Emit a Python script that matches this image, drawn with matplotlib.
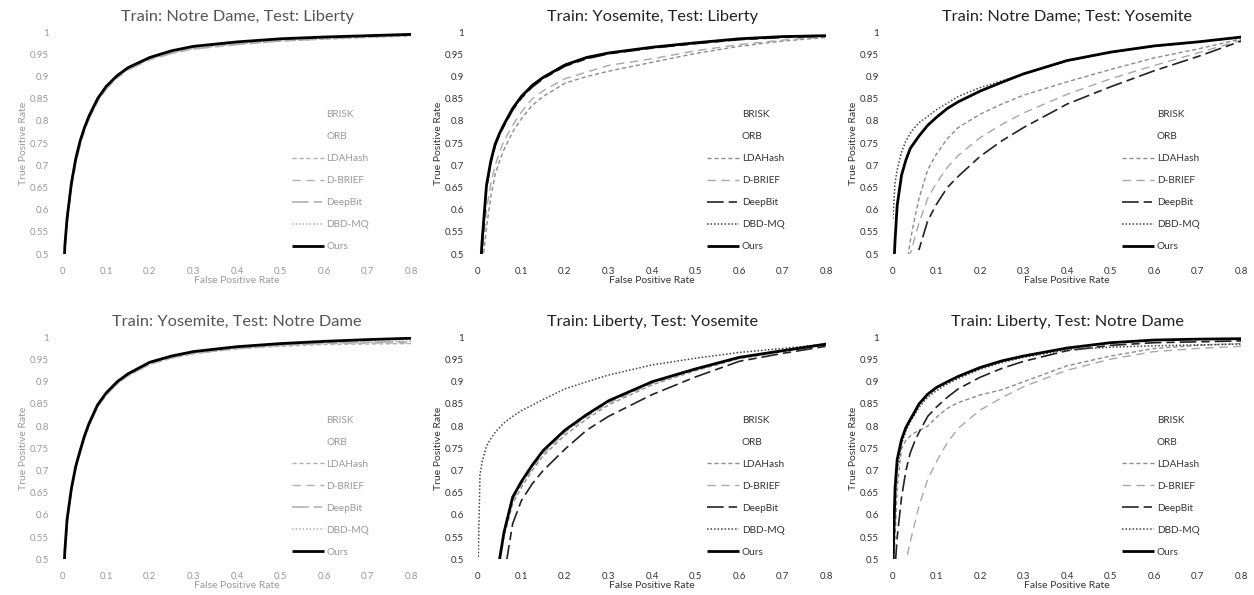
import matplotlib
matplotlib.use("Agg")
import matplotlib.pyplot as plt
from matplotlib.ticker import FormatStrFormatter, MultipleLocator
import numpy as np

plt.rcParams['font.family'] = ['Lato', 'DejaVu Sans']

# shared false positive rate grid (x) for every curve
fpr = [0, 0.005, 0.01, 0.02, 0.03, 0.04, 0.05, 0.06, 0.08, 0.1,
       0.125, 0.15, 0.2, 0.25, 0.3, 0.4, 0.5, 0.6, 0.7, 0.8]

methods = ['BRISK', 'ORB', 'LDAHash', 'D-BRIEF', 'DeepBit', 'DBD-MQ', 'Ours']

titles = ['Train: Notre Dame, Test: Liberty',
          'Train: Yosemite, Test: Liberty',
          'Train: Notre Dame; Test: Yosemite',
          'Train: Yosemite, Test: Notre Dame',
          'Train: Liberty, Test: Yosemite',
          'Train: Liberty, Test: Notre Dame']

# true positive rates (below 0.5 is clipped away)
# panel 1
p1_ldahash = [0.38, 0.50, 0.57, 0.655, 0.71, 0.75, 0.78, 0.806, 0.846, 0.875,
              0.90, 0.917, 0.94, 0.953, 0.963, 0.973, 0.98, 0.984, 0.988, 0.991]
p1_dbrief = [0.39, 0.51, 0.575, 0.66, 0.713, 0.752, 0.783, 0.808, 0.848, 0.876,
             0.90, 0.918, 0.941, 0.955, 0.965, 0.976, 0.983, 0.987, 0.99, 0.993]
p1_deepbit = [0.40, 0.51, 0.57, 0.65, 0.705, 0.745, 0.778, 0.803, 0.843, 0.872,
              0.897, 0.915, 0.938, 0.952, 0.962, 0.972, 0.98, 0.985, 0.989, 0.993]
p1_dbdmq = [0.40, 0.52, 0.585, 0.665, 0.72, 0.758, 0.787, 0.812, 0.85, 0.877,
            0.90, 0.918, 0.94, 0.955, 0.965, 0.975, 0.982, 0.986, 0.99, 0.993]
p1_ours = [0.40, 0.52, 0.58, 0.66, 0.715, 0.755, 0.785, 0.81, 0.85, 0.878,
           0.902, 0.92, 0.943, 0.958, 0.968, 0.978, 0.985, 0.989, 0.992, 0.995]

# panel 2
p2_ldahash = [0.30, 0.40, 0.47, 0.56, 0.63, 0.68, 0.71, 0.735, 0.775, 0.805,
              0.835, 0.855, 0.885, 0.90, 0.912, 0.932, 0.952, 0.968, 0.98, 0.988]
p2_dbrief = [0.30, 0.42, 0.50, 0.60, 0.66, 0.70, 0.73, 0.755, 0.79, 0.82,
             0.85, 0.868, 0.895, 0.91, 0.925, 0.94, 0.958, 0.972, 0.982, 0.99]
p2_deepbit = [0.34, 0.44, 0.52, 0.648, 0.705, 0.744, 0.768, 0.788, 0.824, 0.851,
              0.876, 0.895, 0.923, 0.94, 0.951, 0.964, 0.974, 0.983, 0.988, 0.991]
p2_dbdmq = [0.35, 0.45, 0.525, 0.652, 0.708, 0.746, 0.77, 0.79, 0.826, 0.853,
            0.878, 0.896, 0.924, 0.941, 0.952, 0.965, 0.975, 0.984, 0.989, 0.992]
p2_ours = [0.35, 0.45, 0.53, 0.655, 0.71, 0.748, 0.772, 0.792, 0.828, 0.855,
           0.88, 0.898, 0.926, 0.943, 0.953, 0.966, 0.976, 0.985, 0.99, 0.992]

# panel 3
p3_ldahash = [0.20, 0.25, 0.30, 0.38, 0.46, 0.53, 0.58, 0.625, 0.69, 0.725,
              0.76, 0.785, 0.815, 0.838, 0.858, 0.888, 0.916, 0.942, 0.962, 0.985]
p3_dbrief = [0.18, 0.22, 0.27, 0.34, 0.42, 0.50, 0.535, 0.57, 0.625, 0.66,
             0.695, 0.722, 0.762, 0.792, 0.818, 0.86, 0.895, 0.925, 0.953, 0.982]
p3_deepbit = [0.15, 0.20, 0.25, 0.32, 0.38, 0.43, 0.47, 0.51, 0.575, 0.612,
              0.65, 0.675, 0.72, 0.755, 0.785, 0.838, 0.877, 0.913, 0.945, 0.98]
p3_dbdmq = [0.58, 0.66, 0.69, 0.73, 0.755, 0.772, 0.785, 0.796, 0.81, 0.825,
            0.84, 0.855, 0.875, 0.89, 0.905, 0.935, 0.954, 0.968, 0.978, 0.988]
p3_ours = [0.42, 0.53, 0.61, 0.678, 0.712, 0.738, 0.752, 0.766, 0.79, 0.808,
           0.828, 0.843, 0.867, 0.887, 0.906, 0.936, 0.955, 0.969, 0.978, 0.989]

# panel 4
p4_ldahash = [0.41, 0.51, 0.58, 0.652, 0.703, 0.74, 0.772, 0.8, 0.842, 0.87,
              0.895, 0.913, 0.939, 0.953, 0.963, 0.974, 0.98, 0.984, 0.985, 0.986]
p4_dbrief = [0.41, 0.515, 0.585, 0.656, 0.706, 0.742, 0.775, 0.802, 0.845, 0.872,
             0.897, 0.915, 0.941, 0.955, 0.965, 0.976, 0.983, 0.986, 0.987, 0.988]
p4_deepbit = [0.41, 0.51, 0.58, 0.655, 0.705, 0.74, 0.773, 0.8, 0.844, 0.871,
              0.896, 0.914, 0.94, 0.954, 0.964, 0.975, 0.982, 0.987, 0.989, 0.99]
p4_dbdmq = [0.42, 0.515, 0.588, 0.658, 0.708, 0.743, 0.776, 0.803, 0.846, 0.873,
            0.898, 0.916, 0.942, 0.956, 0.966, 0.977, 0.984, 0.988, 0.99, 0.992]
p4_ours = [0.42, 0.52, 0.59, 0.66, 0.71, 0.745, 0.778, 0.805, 0.848, 0.875,
           0.90, 0.918, 0.944, 0.958, 0.968, 0.979, 0.986, 0.991, 0.995, 0.998]

# panel 5
p5_ldahash = [0.19, 0.21, 0.24, 0.29, 0.35, 0.42, 0.49, 0.55, 0.625, 0.662,
              0.70, 0.733, 0.78, 0.816, 0.848, 0.893, 0.925, 0.952, 0.968, 0.983]
p5_dbrief = [0.20, 0.22, 0.25, 0.30, 0.355, 0.425, 0.495, 0.555, 0.632, 0.668,
             0.705, 0.738, 0.786, 0.821, 0.852, 0.896, 0.927, 0.953, 0.969, 0.984]
p5_deepbit = [0.15, 0.17, 0.20, 0.25, 0.30, 0.35, 0.40, 0.46, 0.58, 0.632,
              0.67, 0.70, 0.748, 0.791, 0.822, 0.871, 0.911, 0.946, 0.964, 0.98]
p5_dbdmq = [0.45, 0.69, 0.72, 0.755, 0.772, 0.786, 0.797, 0.807, 0.822, 0.835,
            0.847, 0.86, 0.884, 0.90, 0.915, 0.938, 0.953, 0.966, 0.975, 0.985]
p5_ours = [0.20, 0.22, 0.25, 0.30, 0.36, 0.43, 0.50, 0.56, 0.64, 0.675,
           0.712, 0.745, 0.791, 0.826, 0.857, 0.90, 0.929, 0.955, 0.97, 0.985]

# panel 6
p6_ldahash = [0.45, 0.55, 0.66, 0.75, 0.768, 0.778, 0.785, 0.79, 0.80, 0.82,
              0.84, 0.853, 0.87, 0.882, 0.90, 0.936, 0.958, 0.975, 0.982, 0.986]
p6_dbrief = [0.30, 0.33, 0.36, 0.43, 0.495, 0.54, 0.58, 0.62, 0.68, 0.72,
             0.763, 0.795, 0.836, 0.864, 0.889, 0.926, 0.951, 0.968, 0.975, 0.98]
p6_deepbit = [0.40, 0.48, 0.55, 0.64, 0.70, 0.74, 0.765, 0.786, 0.822, 0.843,
              0.865, 0.884, 0.91, 0.93, 0.946, 0.97, 0.982, 0.988, 0.99, 0.992]
p6_dbdmq = [0.45, 0.62, 0.70, 0.76, 0.79, 0.81, 0.826, 0.842, 0.865, 0.88,
            0.895, 0.907, 0.928, 0.943, 0.955, 0.972, 0.978, 0.981, 0.983, 0.985]
p6_ours = [0.48, 0.66, 0.725, 0.77, 0.797, 0.815, 0.832, 0.85, 0.872, 0.887,
           0.90, 0.912, 0.932, 0.947, 0.958, 0.976, 0.988, 0.994, 0.996, 0.997]

panels = [
    [p1_ldahash, p1_dbrief, p1_deepbit, p1_dbdmq, p1_ours],
    [p2_ldahash, p2_dbrief, p2_deepbit, p2_dbdmq, p2_ours],
    [p3_ldahash, p3_dbrief, p3_deepbit, p3_dbdmq, p3_ours],
    [p4_ldahash, p4_dbrief, p4_deepbit, p4_dbdmq, p4_ours],
    [p5_ldahash, p5_dbrief, p5_deepbit, p5_dbdmq, p5_ours],
    [p6_ldahash, p6_dbrief, p6_deepbit, p6_dbdmq, p6_ours],
]

# line styles: LDAHash, D-BRIEF, DeepBit, DBD-MQ, Ours
styles = [
    dict(color='#8c8c8c', lw=1.0, dashes=(3, 2)),
    dict(color='#a8a8a8', lw=1.0, dashes=(6, 4)),
    dict(color='#222222', lw=1.2, dashes=(10, 3, 5, 3)),
    dict(color='#444444', lw=1.1, dashes=(1, 1.3)),
    dict(color='#000000', lw=2.0),
]

fig = plt.figure(figsize=(12.54, 5.95), dpi=100)

lefts = [0.050, 0.381, 0.712]
width = 0.278
bottoms = [0.573, 0.060]
height = 0.373

for i, (title, series) in enumerate(zip(titles, panels)):
    row, col = divmod(i, 3)
    ax = fig.add_axes([lefts[col], bottoms[row], width, height])
    faded = col == 0
    txt = '#9a9a9a' if faded else '#333333'

    # BRISK and ORB stay below the plotted range, only their legend text shows
    ax.plot([], [], color='white', lw=1, label=methods[0])
    ax.plot([], [], color='white', lw=1, label=methods[1])
    for name, tpr, st in zip(methods[2:], series, styles):
        c = st['color']
        if faded and name != 'Ours':
            c = '#b0b0b0'
        kw = dict(st)
        kw['color'] = c
        ax.plot(fpr, tpr, label=name, solid_capstyle='butt', **kw)

    ax.set_xlim(0, 0.8)
    ax.set_ylim(0.5, 1.0)
    ax.xaxis.set_major_locator(MultipleLocator(0.1))
    ax.yaxis.set_major_locator(MultipleLocator(0.05))
    ax.xaxis.set_major_formatter(FormatStrFormatter('%g'))
    ax.yaxis.set_major_formatter(FormatStrFormatter('%g'))
    for s in ax.spines.values():
        s.set_visible(False)
    ax.tick_params(length=0, labelsize=7, colors=txt)
    ax.tick_params(axis='x', pad=9.5)
    ax.tick_params(axis='y', pad=10)
    ax.set_title(title, fontsize=11.8, color='#222222' if not faded else '#555555', pad=8)
    ax.set_xlabel('False Positive Rate', fontsize=7.5, color=txt, labelpad=0)
    ax.set_ylabel('True Positive Rate', fontsize=7.5, color=txt, labelpad=1)

    leg = ax.legend(loc='upper left', bbox_to_anchor=(0.645, 0.665), frameon=False,
                    fontsize=7.2, labelspacing=1.3, handlelength=3.2,
                    handletextpad=0.3, borderaxespad=0)
    for t in leg.get_texts():
        t.set_color(txt)

fig.savefig('out.png', dpi=100, facecolor='white')
